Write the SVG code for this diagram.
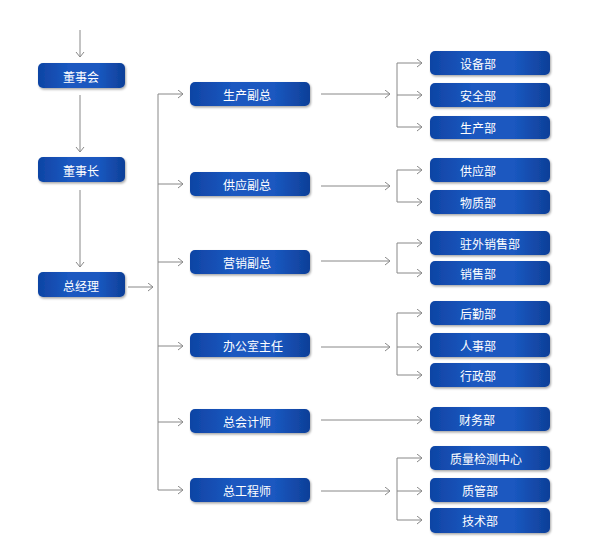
<svg xmlns="http://www.w3.org/2000/svg" width="597" height="548" viewBox="0 0 597 548">
<defs>
<linearGradient id="g" x1="0" y1="0" x2="1" y2="0">
<stop offset="0" stop-color="#0f44a4"/>
<stop offset="0.35" stop-color="#1a58c0"/>
<stop offset="0.7" stop-color="#1a58c0"/>
<stop offset="1" stop-color="#0e3f98"/>
</linearGradient>
<filter id="sh" x="-10%" y="-20%" width="125%" height="160%">
<feDropShadow dx="1" dy="1.5" stdDeviation="1.3" flood-color="#000" flood-opacity="0.35"/>
</filter>
<marker id="ar" markerUnits="userSpaceOnUse" markerWidth="8" markerHeight="10" refX="6" refY="4.5" orient="auto">
<path d="M1,0.5 L6,4.5 L1,8.5" fill="none" stroke="#888" stroke-width="1"/>
</marker>
<style>
.b{fill:url(#g);filter:url(#sh)}
.t{fill:#fff;font-family:"Noto Sans CJK SC","Noto Sans",sans-serif;font-size:12px;dominant-baseline:central}
.c{fill:none;stroke:#888;stroke-width:1}
.a{marker-end:url(#ar)}
</style>
</defs>
<rect width="597" height="548" fill="#fff"/>
<g id="connectors">
<path class="c a" d="M80,30 V57"/>
<path class="c a" d="M80,95 V152"/>
<path class="c a" d="M80,190 V267"/>
<path class="c a" d="M128,287 H153"/>
<path class="c" d="M158,94 V490"/>
<path class="c a" d="M158,94 H183"/>
<path class="c a" d="M158,184 H183"/>
<path class="c a" d="M158,262 H183"/>
<path class="c a" d="M158,346 H183"/>
<path class="c a" d="M158,422 H183"/>
<path class="c a" d="M158,490 H183"/>
<path class="c a" d="M321,94 H390"/>
<path class="c a" d="M321,186 H390"/>
<path class="c a" d="M321,261 H390"/>
<path class="c a" d="M321,347 H390"/>
<path class="c a" d="M321,420 H422"/>
<path class="c a" d="M321,491 H390"/>
<path class="c" d="M397,63 V127 M397,170 V202 M397,243 V273 M397,313 V375 M397,458 V520"/>
<path class="c a" d="M397,63 H422"/>
<path class="c a" d="M397,95 H422"/>
<path class="c a" d="M397,127 H422"/>
<path class="c a" d="M397,170 H422"/>
<path class="c a" d="M397,202 H422"/>
<path class="c a" d="M397,243 H422"/>
<path class="c a" d="M397,273 H422"/>
<path class="c a" d="M397,313 H422"/>
<path class="c a" d="M397,347 H422"/>
<path class="c a" d="M397,375 H422"/>
<path class="c a" d="M397,458 H422"/>
<path class="c a" d="M397,491 H422"/>
<path class="c a" d="M397,520 H422"/>
</g>
<g id="n1"><rect class="b" x="38" y="63" width="87" height="25" rx="5"/><text class="t" x="81" y="76" text-anchor="middle">董事会</text></g>
<g id="n2"><rect class="b" x="38" y="157" width="87" height="25" rx="5"/><text class="t" x="81" y="170" text-anchor="middle">董事长</text></g>
<g id="n3"><rect class="b" x="38" y="272" width="87" height="25" rx="5"/><text class="t" x="81" y="285" text-anchor="middle">总经理</text></g>
<g id="m1"><rect class="b" x="190" y="82" width="120" height="24" rx="5"/><text class="t" x="223" y="94">生产副总</text></g>
<g id="m2"><rect class="b" x="190" y="172" width="120" height="24" rx="5"/><text class="t" x="223" y="184">供应副总</text></g>
<g id="m3"><rect class="b" x="190" y="250" width="120" height="24" rx="5"/><text class="t" x="223" y="262">营销副总</text></g>
<g id="m4"><rect class="b" x="190" y="333" width="120" height="24" rx="5"/><text class="t" x="223" y="345">办公室主任</text></g>
<g id="m5"><rect class="b" x="190" y="409" width="120" height="24" rx="5"/><text class="t" x="223" y="421">总会计师</text></g>
<g id="m6"><rect class="b" x="190" y="478" width="120" height="24" rx="5"/><text class="t" x="223" y="490">总工程师</text></g>
<g id="r1"><rect class="b" x="430" y="51" width="120" height="24" rx="5"/><text class="t" x="460" y="63">设备部</text></g>
<g id="r2"><rect class="b" x="430" y="83" width="120" height="24" rx="5"/><text class="t" x="460" y="95">安全部</text></g>
<g id="r3"><rect class="b" x="430" y="116" width="120" height="23" rx="5"/><text class="t" x="460" y="127">生产部</text></g>
<g id="r4"><rect class="b" x="430" y="158" width="120" height="24" rx="5"/><text class="t" x="460" y="170">供应部</text></g>
<g id="r5"><rect class="b" x="430" y="190" width="120" height="24" rx="5"/><text class="t" x="460" y="202">物质部</text></g>
<g id="r6"><rect class="b" x="430" y="231" width="120" height="24" rx="5"/><text class="t" x="460" y="243">驻外销售部</text></g>
<g id="r7"><rect class="b" x="430" y="261" width="120" height="24" rx="5"/><text class="t" x="460" y="273">销售部</text></g>
<g id="r8"><rect class="b" x="430" y="301" width="120" height="24" rx="5"/><text class="t" x="460" y="313">后勤部</text></g>
<g id="r9"><rect class="b" x="430" y="333" width="120" height="24" rx="5"/><text class="t" x="460" y="345">人事部</text></g>
<g id="r10"><rect class="b" x="430" y="363" width="120" height="24" rx="5"/><text class="t" x="460" y="375">行政部</text></g>
<g id="r11"><rect class="b" x="430" y="407" width="120" height="24" rx="5"/><text class="t" x="459" y="419">财务部</text></g>
<g id="r12"><rect class="b" x="430" y="446" width="120" height="24" rx="5"/><text class="t" x="450" y="458">质量检测中心</text></g>
<g id="r13"><rect class="b" x="430" y="478" width="120" height="24" rx="5"/><text class="t" x="462" y="490">质管部</text></g>
<g id="r14"><rect class="b" x="430" y="508" width="120" height="25" rx="5"/><text class="t" x="462" y="520">技术部</text></g>
</svg>
